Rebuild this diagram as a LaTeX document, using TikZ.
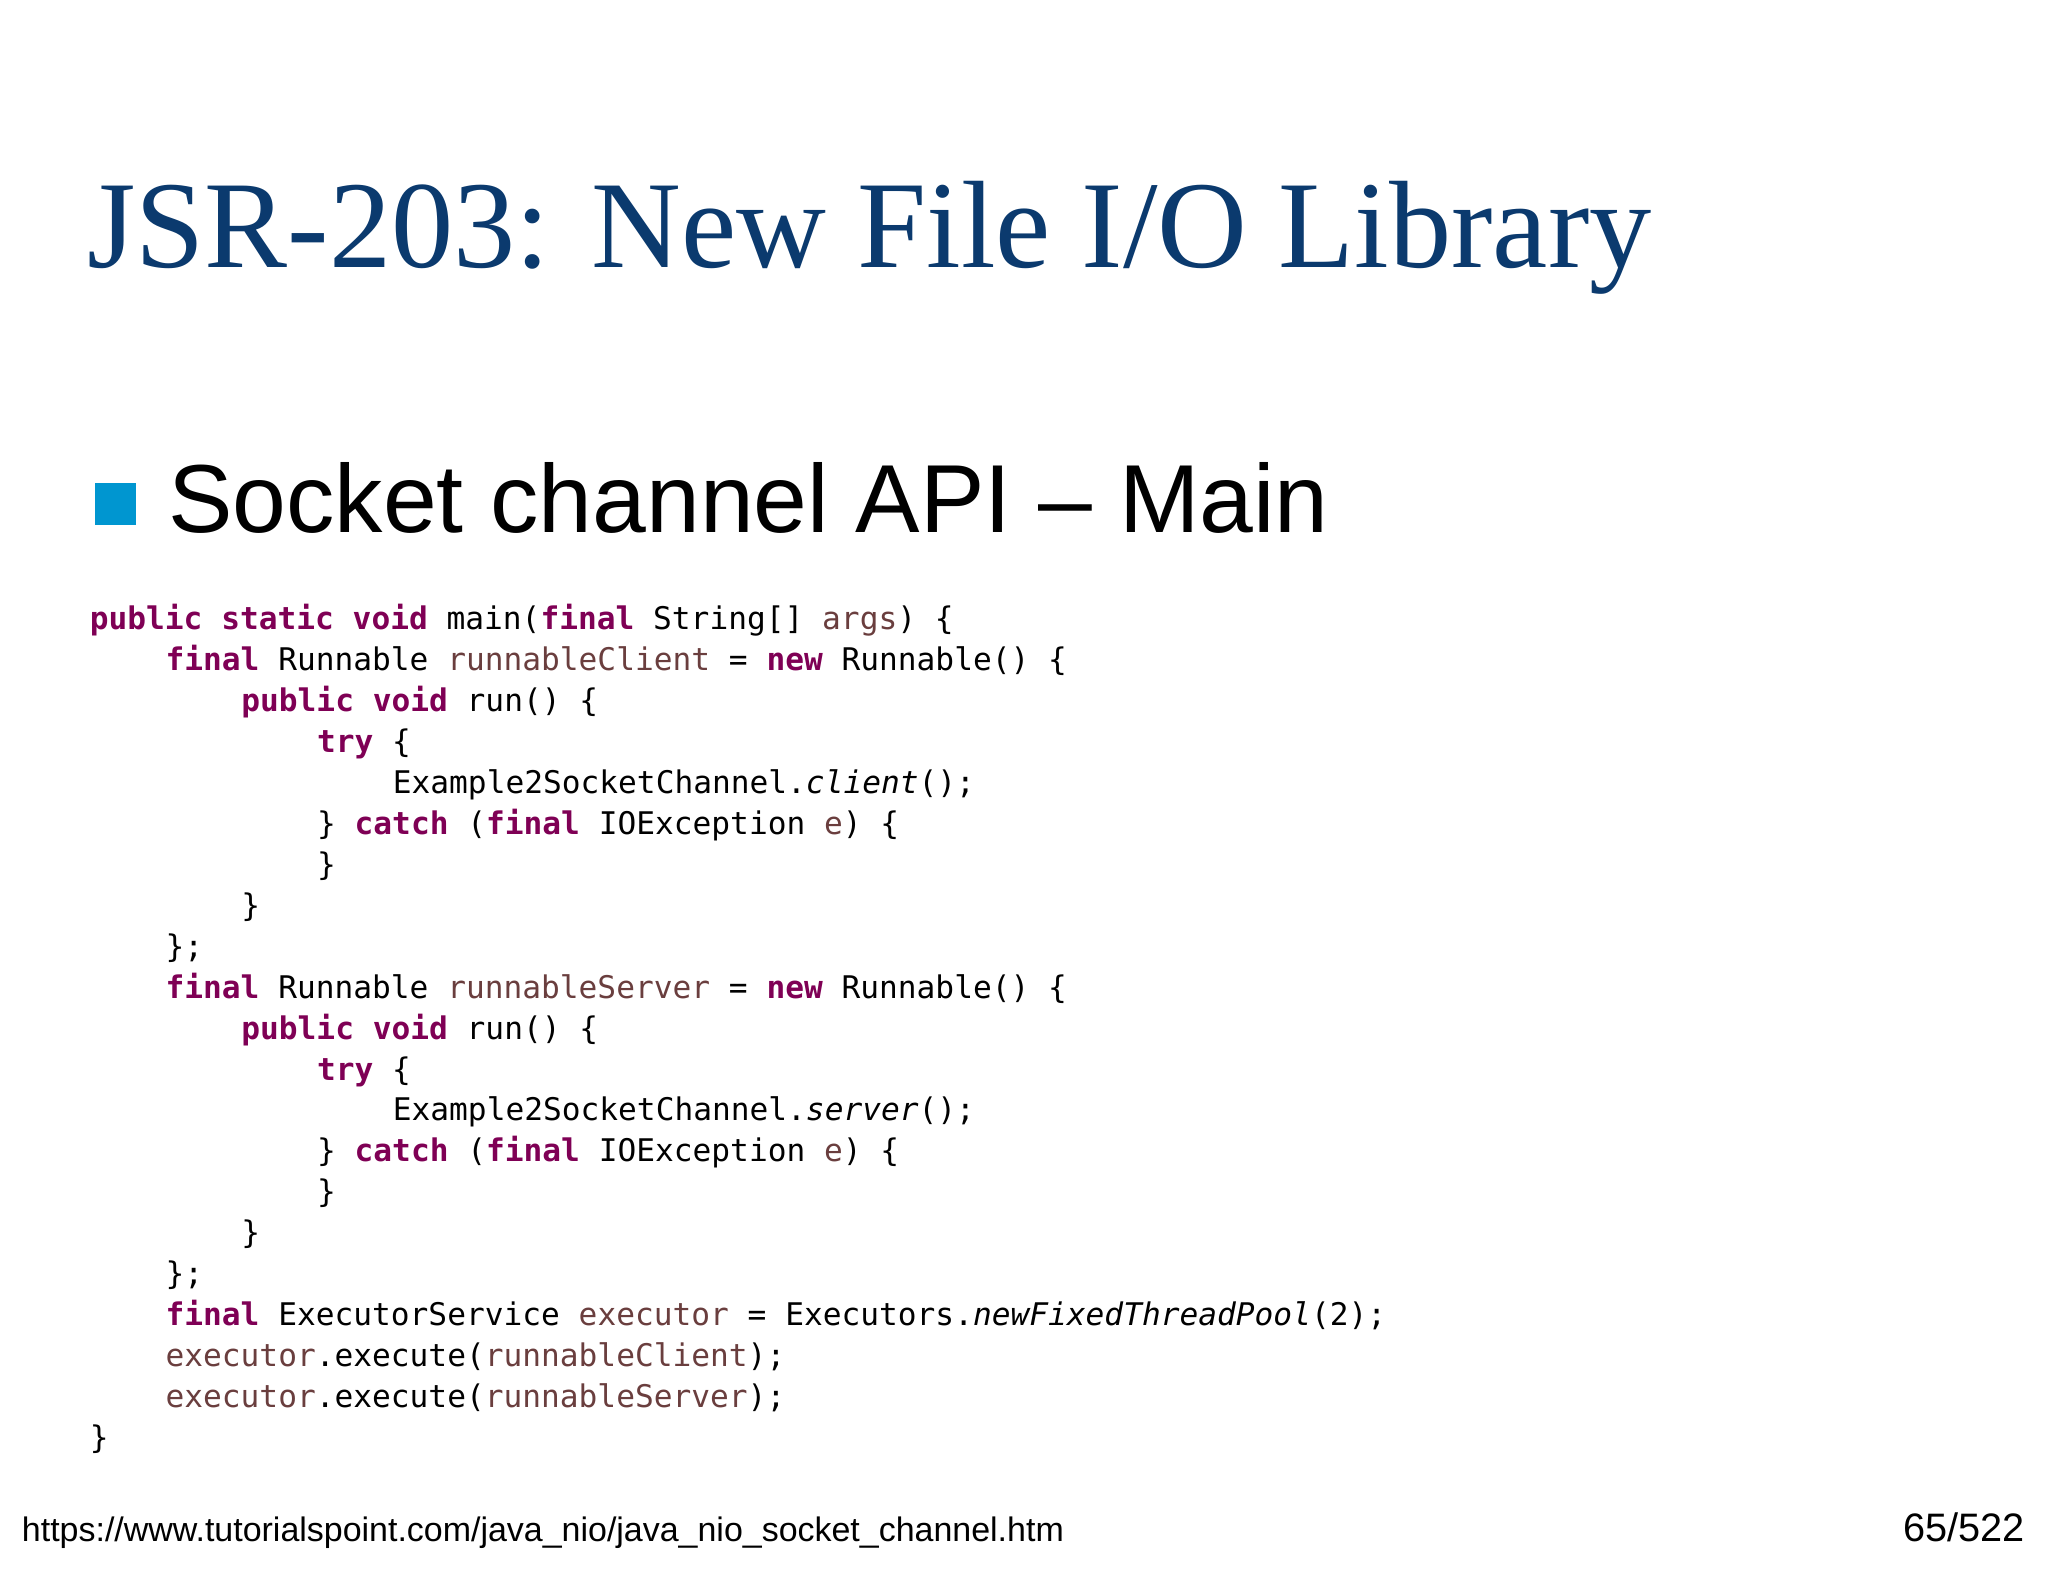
\documentclass[tikz,border=0pt]{standalone}
\usepackage{fontspec}
\setmainfont{Liberation Serif}
\newfontfamily\codefont{DejaVu Sans Mono}
\newfontfamily\sansfont{Liberation Sans}
\usetikzlibrary{positioning}
\definecolor{titleblue}{HTML}{0B3A6E}
\definecolor{bulletblue}{HTML}{0096D0}
\definecolor{kwpurple}{HTML}{7F0055}
\definecolor{varbrown}{HTML}{6A3E3E}
\newcommand{\kw}[1]{\textcolor{kwpurple}{\bfseries #1}}
\newcommand{\vr}[1]{\textcolor{varbrown}{#1}}
\begin{document}
\begin{tikzpicture}[x=0.25pt,y=-0.25pt,
        code/.style={anchor=base west,inner sep=0,font=\codefont\fontsize{5.97}{7}\selectfont},
        ind/.style={xshift=#1*14.5*0.25pt}]
        \useasboundingbox[fill=white] (0,0) rectangle (1568,1211);
        % heading
        \node[anchor=base west,inner sep=0,text=titleblue,font=\fontsize{23.8}{28}\selectfont] (title) at (66,205) {JSR-203: New File I/O Library};
        \node[fill=bulletblue,minimum size=8pt,inner sep=0] (bullet) at (88.5,386) {};
        \node[anchor=base west,inner sep=0,font=\sansfont\fontsize{18.5}{22}\selectfont] (item) at (128,408) {Socket channel API \textendash\ Main};
        % code
        \node[code] (l1) at (68,482) {\kw{public} \kw{static} \kw{void} main(\kw{final} String[] \vr{args}) \{};
        \node[code,ind=4] (l2) at (68,513.4) {\kw{final} Runnable \vr{runnableClient} = \kw{new} Runnable() \{};
        \node[code,ind=8] (l3) at (68,544.7) {\kw{public} \kw{void} run() \{};
        \node[code,ind=12] (l4) at (68,576.1) {\kw{try} \{};
        \node[code,ind=16] (l5) at (68,607.4) {Example2SocketChannel.\textit{client}();};
        \node[code,ind=12] (l6) at (68,638.8) {\} \kw{catch} (\kw{final} IOException \vr{e}) \{};
        \node[code,ind=12] (l7) at (68,670.1) {\}};
        \node[code,ind=8] (l8) at (68,701.5) {\}};
        \node[code,ind=4] (l9) at (68,732.8) {\};};
        \node[code,ind=4] (l10) at (68,764.2) {\kw{final} Runnable \vr{runnableServer} = \kw{new} Runnable() \{};
        \node[code,ind=8] (l11) at (68,795.5) {\kw{public} \kw{void} run() \{};
        \node[code,ind=12] (l12) at (68,826.9) {\kw{try} \{};
        \node[code,ind=16] (l13) at (68,858.2) {Example2SocketChannel.\textit{server}();};
        \node[code,ind=12] (l14) at (68,889.6) {\} \kw{catch} (\kw{final} IOException \vr{e}) \{};
        \node[code,ind=12] (l15) at (68,920.9) {\}};
        \node[code,ind=8] (l16) at (68,952.3) {\}};
        \node[code,ind=4] (l17) at (68,983.6) {\};};
        \node[code,ind=4] (l18) at (68,1015) {\kw{final} ExecutorService \vr{executor} = Executors.\textit{newFixedThreadPool}(2);};
        \node[code,ind=4] (l19) at (68,1046.3) {\vr{executor}.execute(\vr{runnableClient});};
        \node[code,ind=4] (l20) at (68,1077.7) {\vr{executor}.execute(\vr{runnableServer});};
        \node[code] (l21) at (68,1109) {\}};
        % footer
        \node[anchor=base west,inner sep=0,font=\sansfont\fontsize{6.5}{8}\selectfont] (url) at (16,1180) {https://www.tutorialspoint.com/java\_nio/java\_nio\_socket\_channel.htm};
        \node[anchor=base east,inner sep=0,font=\sansfont\fontsize{7.6}{9}\selectfont] (page) at (1551,1180) {65/522};
\end{tikzpicture}
\end{document}
